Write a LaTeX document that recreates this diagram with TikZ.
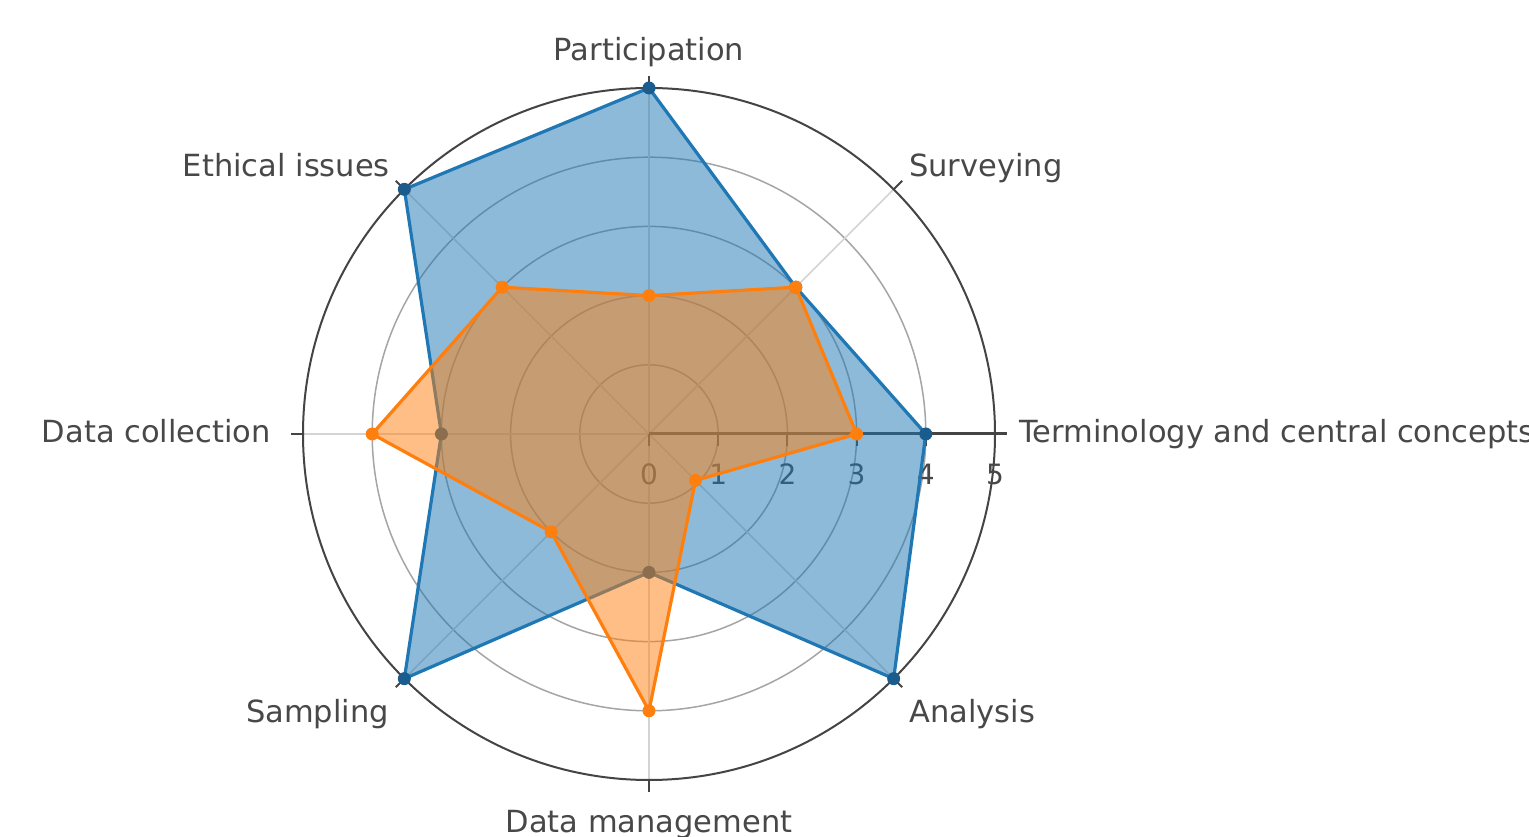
\documentclass[tikz,border=0pt]{standalone}
\usepackage{fontspec}
\setmainfont{DejaVu Sans}
\definecolor{tblue}{RGB}{31,119,180}
\definecolor{tbluedark}{RGB}{26,92,142}
\definecolor{torange}{RGB}{255,127,14}
\definecolor{txt}{RGB}{72,72,72}
\definecolor{axisc}{RGB}{68,68,68}
\definecolor{gridc}{RGB}{165,165,165}
\definecolor{spokec}{RGB}{212,212,212}
\begin{document}
\begin{tikzpicture}[x=1pt,y=1pt,
  lbl/.style={text=txt,font=\fontsize{30.5}{36}\selectfont,inner sep=0pt},
  ticklbl/.style={text=txt,font=\fontsize{28}{34}\selectfont,inner sep=0pt,anchor=base},
  gridring/.style={draw=gridc,line width=1.5},
  spoke/.style={draw=spokec,line width=1.5},
  axisline/.style={draw=axisc,line width=2},
  bluetrace/.style={draw=tblue,line width=3.2,line join=round},
  orangetrace/.style={draw=torange,line width=3.2,line join=round},
  bluefill/.style={fill=tblue,fill opacity=0.5},
  orangefill/.style={fill=torange,fill opacity=0.5}]
\useasboundingbox (0,0) rectangle (1529,836);
\fill[white] (0,0) rectangle (1529,836);
\def\u{69.2}
\begin{scope}[shift={(649,402)}]
  \coordinate (O) at (0,0);
  % grid
  \foreach \k in {1,...,4} \draw[gridring] (O) circle ({\k*\u});
  \foreach \a in {45,90,...,315} \draw[spoke] (O) -- (\a:346);
  \draw[axisline] (O) circle (346);
  \foreach \a in {0,45,...,315} \draw[axisline] (\a:346) -- (\a:358);
  % radial axis
  \draw[axisc,line width=3] (O) -- (0:358);
  \foreach \k in {0,...,5} {
    \draw[axisline] ({\k*\u},0) -- ({\k*\u},-12);
    \node[ticklbl] (t\k) at ({\k*\u},-51) {\k};
  }
  % data points
  \foreach \v [count=\i] in {4,3,5,5,3,5,2,5}
    \coordinate (b\i) at ({(\i-1)*45}:{\v*\u});
  \foreach \v [count=\i] in {3,3,2,3,4,2,4,0.95}
    \coordinate (o\i) at ({(\i-1)*45}:{\v*\u});
  % blue trace
  \fill[bluefill] (b1) -- (b2) -- (b3) -- (b4) -- (b5) -- (b6) -- (b7) -- (b8) -- cycle;
  \draw[bluetrace] (b1) -- (b2) -- (b3) -- (b4) -- (b5) -- (b6) -- (b7) -- (b8) -- cycle;
  \foreach \i in {1,...,8} \fill[tbluedark] (b\i) circle (6.5);
  % orange trace
  \fill[orangefill] (o1) -- (o2) -- (o3) -- (o4) -- (o5) -- (o6) -- (o7) -- (o8) -- cycle;
  \draw[orangetrace] (o1) -- (o2) -- (o3) -- (o4) -- (o5) -- (o6) -- (o7) -- (o8) -- cycle;
  \foreach \i in {1,...,8} \fill[torange] (o\i) circle (6.5);
\end{scope}
% axis labels
\node[lbl,anchor=base] (lP) at (649,775) {Participation};
\node[lbl,anchor=base west] (lS) at (909,659) {Surveying};
\node[lbl,anchor=base east] (lE) at (390,659) {Ethical issues};
\node[lbl,anchor=base west] (lT) at (1019,393) {Terminology and central concepts};
\node[lbl,anchor=base east] (lD) at (271,393) {Data collection};
\node[lbl,anchor=base east] (lSa) at (389,114) {Sampling};
\node[lbl,anchor=base west] (lA) at (909,114) {Analysis};
\node[lbl,anchor=base] (lM) at (649,4) {Data management};
\end{tikzpicture}
\end{document}
